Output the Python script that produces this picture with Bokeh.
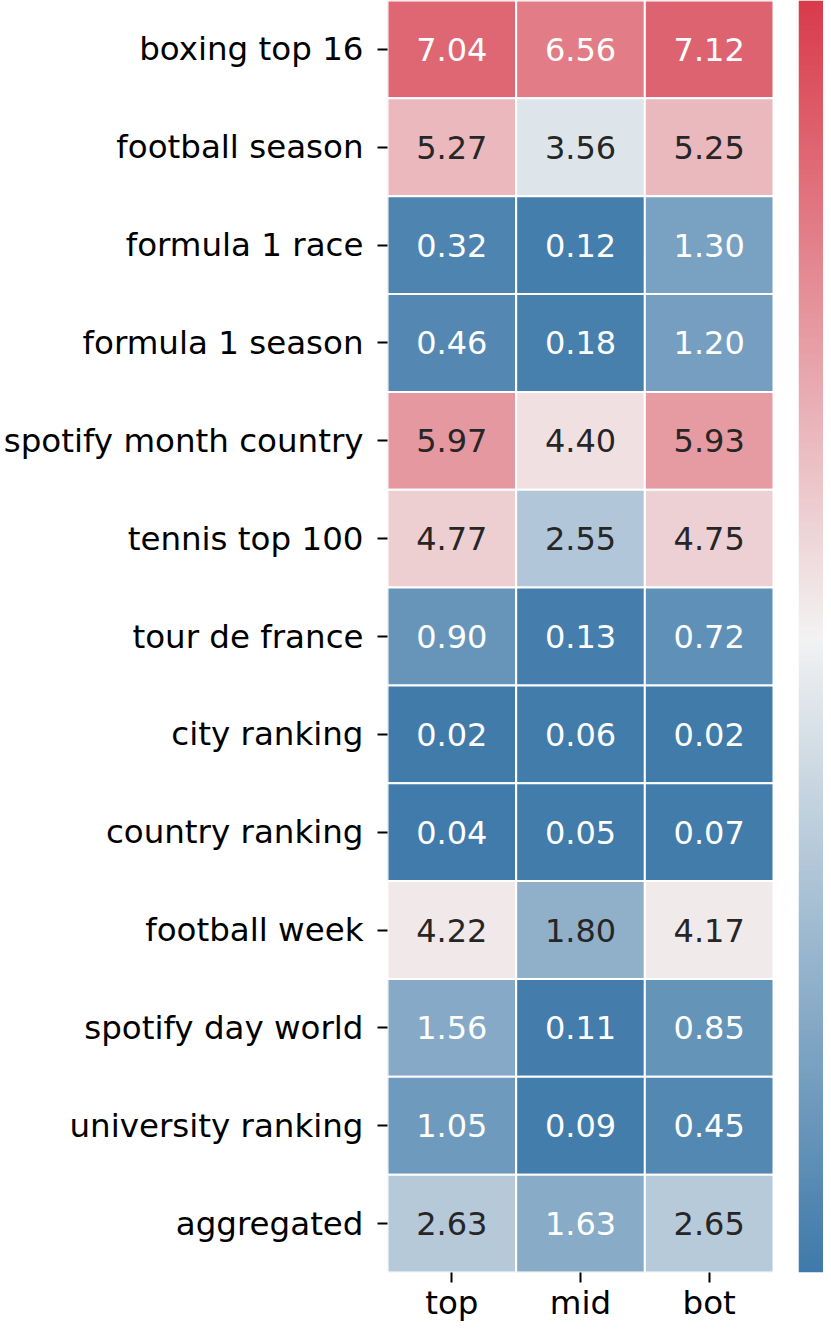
import numpy as np
from bokeh.plotting import figure
from bokeh.layouts import row
from bokeh.models import ColumnDataSource, LinearColorMapper, FactorRange, Range1d
from bokeh.core.properties import value
from bokeh.embed import file_html
from bokeh.resources import INLINE

rows = ["boxing top 16", "football season", "formula 1 race", "formula 1 season",
        "spotify month country", "tennis top 100", "tour de france", "city ranking",
        "country ranking", "football week", "spotify day world", "university ranking",
        "aggregated"]
cols = ["top", "mid", "bot"]
top = [7.04, 5.27, 0.32, 0.46, 5.97, 4.77, 0.90, 0.02, 0.04, 4.22, 1.56, 1.05, 2.63]
mid = [6.56, 3.56, 0.12, 0.18, 4.40, 2.55, 0.13, 0.06, 0.05, 1.80, 0.11, 0.09, 1.63]
bot = [7.12, 5.25, 1.30, 1.20, 5.93, 4.75, 0.72, 0.02, 0.07, 4.17, 0.85, 0.45, 2.65]

VMIN, VMAX = 0.0, 8.0
low_rgb = np.array([63, 122, 170])
mid_rgb = np.array([242, 242, 242])
high_rgb = np.array([217, 59, 75])

def cmap(t):
    t = min(max(t, 0.0), 1.0)
    if t < 0.5:
        f = t / 0.5
        c = low_rgb + f * (mid_rgb - low_rgb)
    else:
        f = (t - 0.5) / 0.5
        c = mid_rgb + f * (high_rgb - mid_rgb)
    return tuple(int(round(v)) for v in c)

def hexc(c):
    return "#%02x%02x%02x" % c

def lum(c):
    out = []
    for v in c:
        v = v / 255.0
        out.append(v / 12.92 if v <= 0.03928 else ((v + 0.055) / 1.055) ** 2.4)
    return 0.2126 * out[0] + 0.7152 * out[1] + 0.0722 * out[2]

palette = [hexc(cmap(i / 255)) for i in range(256)]

xs, ys, vals, fills, tcols, labels = [], [], [], [], [], []
for ci, series in zip(cols, [top, mid, bot]):
    for r, v in zip(rows, series):
        c = cmap((v - VMIN) / (VMAX - VMIN))
        xs.append(ci)
        ys.append(r)
        vals.append(v)
        fills.append(hexc(c))
        tcols.append("#262626" if lum(c) > 0.408 else "#ffffff")
        labels.append("%.2f" % v)

src = ColumnDataSource(dict(x=xs, y=ys, v=vals, fill=fills, tcol=tcols, label=labels))

H = 1324
p = figure(width=773, height=H, output_backend="svg", toolbar_location=None,
           x_range=FactorRange(*cols), y_range=FactorRange(*rows[::-1]),
           min_border_left=386, min_border_top=0, min_border_right=0,
           min_border_bottom=0)
p.outline_line_color = None
p.grid.grid_line_color = None

p.rect(x="x", y="y", width=1, height=1, source=src, fill_color="fill",
       line_color="white", line_width=2)
p.text(x="x", y="y", text="label", source=src, text_color="tcol",
       text_align="center", text_baseline="middle",
       text_font=value("DejaVu Sans"), text_font_size="32px")

for ax in (p.xaxis, p.yaxis):
    ax.axis_line_color = None
    ax.major_tick_in = 0
    ax.major_tick_out = 10
    ax.major_tick_line_width = 2
    ax.major_tick_line_color = "black"
    ax.major_label_text_font = "DejaVu Sans"
    ax.major_label_text_font_size = "32.5px"
    ax.major_label_text_color = "black"
    ax.minor_tick_line_color = None
p.yaxis.major_label_standoff = 14
p.xaxis.major_label_standoff = 1

# colour bar drawn as its own small figure
mapper = LinearColorMapper(palette=palette, low=VMIN, high=VMAX)
cbp = figure(width=50, height=H, output_backend="svg", toolbar_location=None,
             x_range=Range1d(0, 1), y_range=Range1d(VMIN, VMAX),
             min_border_left=25, min_border_right=0, min_border_top=0,
             min_border_bottom=0)
cbp.xaxis.visible = False
cbp.yaxis.visible = False
cbp.grid.grid_line_color = None
cbp.outline_line_color = None
grad = np.linspace(VMIN, VMAX, 256).reshape(256, 1)
cbp.image(image=[grad], x=0, y=VMIN, dw=1, dh=VMAX - VMIN, color_mapper=mapper)

layout = row(p, cbp, spacing=0)
open("out.html", "w").write(file_html(layout, INLINE))
